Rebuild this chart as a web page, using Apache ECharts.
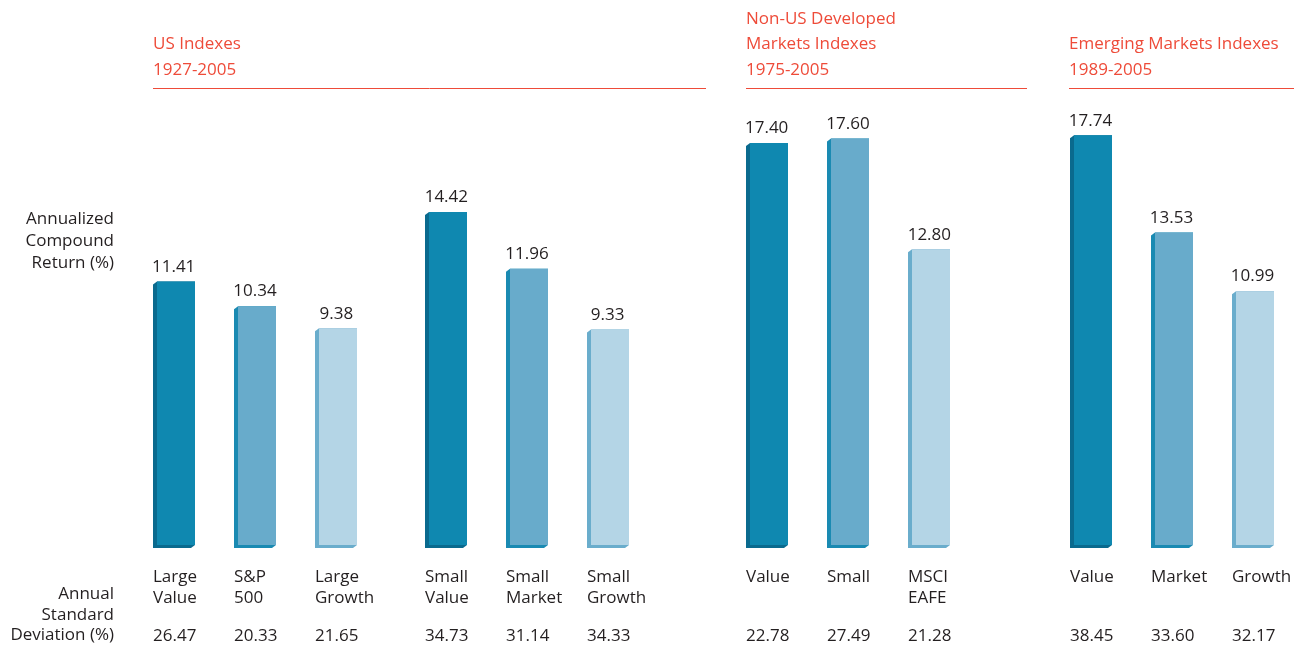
<!DOCTYPE html>
<html><head><meta charset="utf-8">
<script src="https://cdn.jsdelivr.net/npm/echarts@6/dist/echarts.min.js"></script>
<style>html,body{margin:0;padding:0;background:#fff}#c{width:1294px;height:648px}</style>
</head><body><div id="c"></div>
<script>
// ---- data ----
const usLargeCats = ['Large\nValue', 'S&P\n500', 'Large\nGrowth'];
const usLargeReturns = [11.41, 10.34, 9.38];
const usLargeStd = ['26.47', '20.33', '21.65'];

const usSmallCats = ['Small\nValue', 'Small\nMarket', 'Small\nGrowth'];
const usSmallReturns = [14.42, 11.96, 9.33];
const usSmallStd = ['34.73', '31.14', '34.33'];

const nonUsCats = ['Value', 'Small', 'MSCI\nEAFE'];
const nonUsReturns = [17.40, 17.60, 12.80];
const nonUsStd = ['22.78', '27.49', '21.28'];

const emCats = ['Value', 'Market', 'Growth'];
const emReturns = [17.74, 13.53, 10.99];
const emStd = ['38.45', '33.60', '32.17'];

const groupTitles = ['US Indexes\n1927-2005', 'Non-US Developed\nMarkets Indexes\n1975-2005', 'Emerging Markets Indexes\n1989-2005'];
const leftTitles = ['Annualized\nCompound\nReturn (%)', 'Annual\nStandard\nDeviation (%)'];

// ---- styles ----
const FONT = '17px "Open Sans", "Noto Sans", sans-serif';
const TXT = '#231f20';
const RED = '#ee4b39';
const faceColors = ['#0f88b0', '#68abcb', '#b4d5e6'];
const sideColors = ['#0a6a8e', '#1a8ab2', '#6aadcc'];

const panels = [
  {cats: usLargeCats, vals: usLargeReturns, std: usLargeStd, left: 133, width: 244},
  {cats: usSmallCats, vals: usSmallReturns, std: usSmallStd, left: 406, width: 242},
  {cats: nonUsCats, vals: nonUsReturns, std: nonUsStd, left: 726, width: 244},
  {cats: emCats, vals: emReturns, std: emStd, left: 1050, width: 243}
];

function makeRender(p) {
  return function (params, api) {
    const i = api.value(0);
    const v = api.value(1);
    const top = api.coord([i, v]);
    const base = api.coord([i, 0]);
    const W = 42, dx = 4, dy = 3;
    const cx = top[0];
    const L = Math.round(cx - W / 2);
    const fx0 = L + dx, fx1 = L + W;
    const y0 = top[1], y1 = base[1];
    const k = i % 3;
    return {
      type: 'group',
      children: [
        {type: 'polygon', shape: {points: [[fx0, y0], [L, y0 + dy], [L, y1 + dy], [fx1 - dx, y1 + dy], [fx1, y1], [fx1, y0]]},
          style: {fill: sideColors[k]}},
        {type: 'rect', shape: {x: fx0, y: y0, width: W - dx, height: y1 - y0}, style: {fill: faceColors[k]}},
        {type: 'text', x: cx, y: y0 - 6, style: {text: v.toFixed(2), font: FONT, fill: TXT, align: 'center', verticalAlign: 'bottom'}},
        {type: 'text', x: L, y: y1 + 22, style: {text: p.cats[i], font: FONT, fill: TXT, align: 'left', verticalAlign: 'top', lineHeight: 21}},
        {type: 'text', x: L, y: y1 + 91, style: {text: p.std[i], font: FONT, fill: TXT, align: 'left', verticalAlign: 'middle'}}
      ]
    };
  };
}

const grid = [], xAxis = [], yAxis = [], series = [];
panels.forEach((p, gi) => {
  grid.push({left: p.left, width: p.width, top: 83, height: 462});
  xAxis.push({type: 'category', gridIndex: gi, data: p.cats, show: false});
  yAxis.push({type: 'value', gridIndex: gi, min: 0, max: 20, show: false});
  series.push({
    type: 'custom', xAxisIndex: gi, yAxisIndex: gi,
    renderItem: makeRender(p),
    data: p.vals.map((v, i) => [i, v]),
    clip: false, silent: true
  });
});

const graphic = [
  {type: 'text', x: 153, y: 57, style: {text: groupTitles[0], font: FONT, fill: RED, verticalAlign: 'middle', lineHeight: 26}},
  {type: 'line', shape: {x1: 153, y1: 88.5, x2: 706, y2: 88.5}, style: {stroke: RED, lineWidth: 1}},
  {type: 'text', x: 746, y: 44.5, style: {text: groupTitles[1], font: FONT, fill: RED, verticalAlign: 'middle', lineHeight: 25.5}},
  {type: 'line', shape: {x1: 746, y1: 88.5, x2: 1027, y2: 88.5}, style: {stroke: RED, lineWidth: 1}},
  {type: 'text', x: 1069, y: 57, style: {text: groupTitles[2], font: FONT, fill: RED, verticalAlign: 'middle', lineHeight: 26}},
  {type: 'line', shape: {x1: 1069, y1: 88.5, x2: 1294, y2: 88.5}, style: {stroke: RED, lineWidth: 1}},
  {type: 'text', x: 114, y: 241, style: {text: leftTitles[0], font: FONT, fill: TXT, align: 'right', verticalAlign: 'middle', lineHeight: 22}},
  {type: 'text', x: 114, y: 615, style: {text: leftTitles[1], font: FONT, fill: TXT, align: 'right', verticalAlign: 'middle', lineHeight: 20.5}}
];

const chart = echarts.init(document.getElementById('c'), null, {renderer: 'canvas'});
chart.setOption({animation: false, grid, xAxis, yAxis, series, graphic});
</script></body></html>
